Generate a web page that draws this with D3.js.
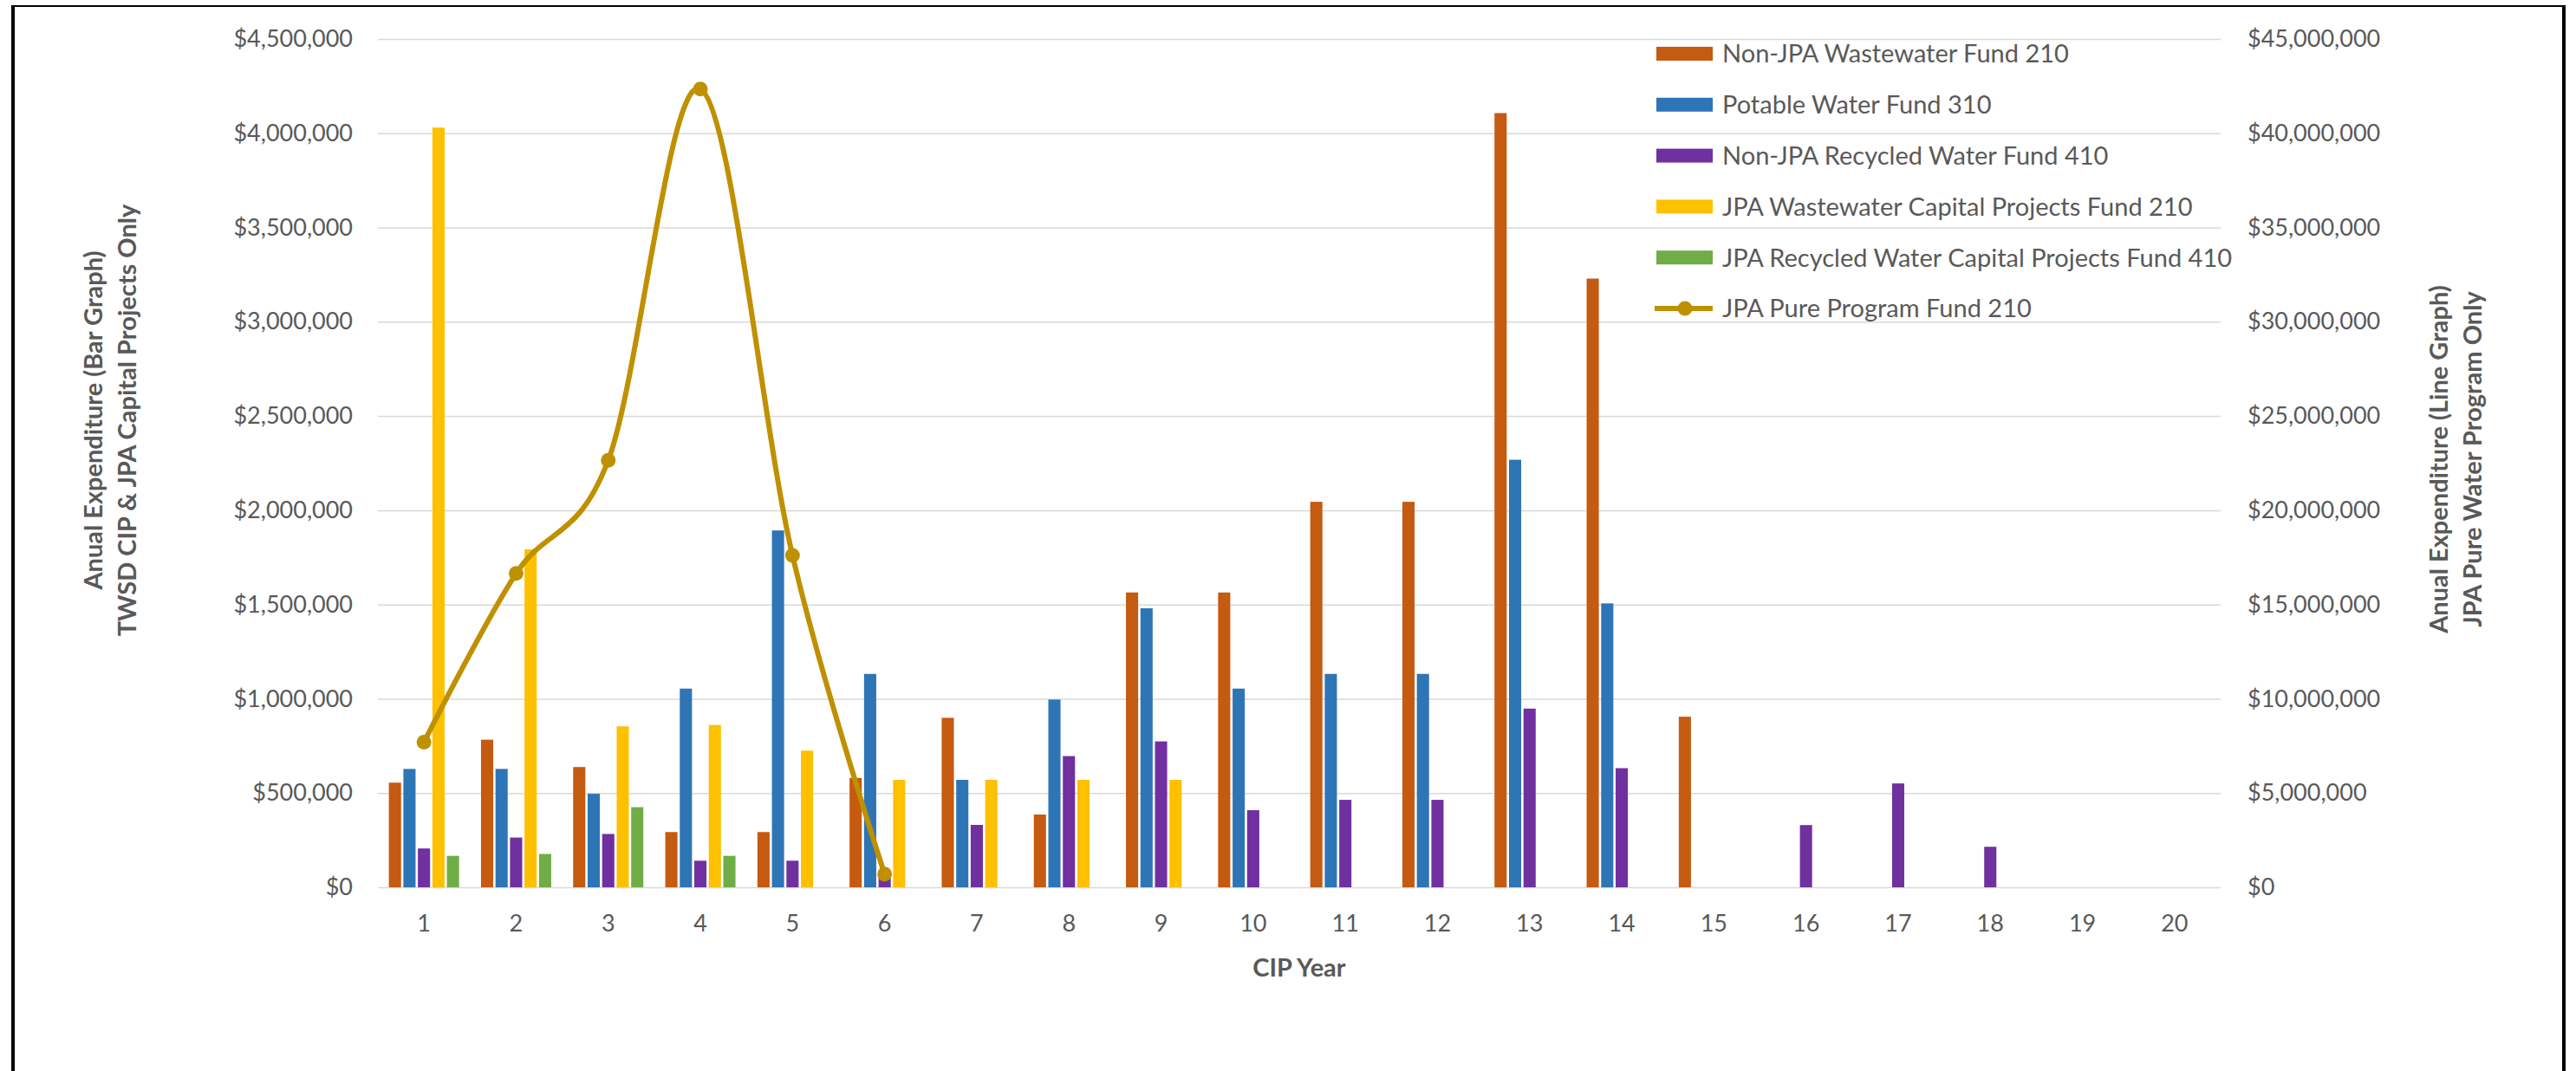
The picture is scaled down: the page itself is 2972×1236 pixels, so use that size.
<!DOCTYPE html>
<html>
<head>
<meta charset="utf-8">
<script src="https://cdn.jsdelivr.net/npm/d3@7"></script>
<style>
  html, body { margin: 0; padding: 0; background: #ffffff; }
  svg { display: block; }
  text { font-family: Lato, "Liberation Sans", sans-serif; }
</style>
</head>
<body>
<svg id="chart" width="2972" height="1236"></svg>
<script>
// CIP years on the x axis
const categories = ["1","2","3","4","5","6","7","8","9","10","11","12","13","14","15","16","17","18","19","20"];

// Bar series (left axis, dollars)
const nonJpaWastewater210 = [555000, 783000, 638000, 293000, 293000, 580000, 899000, 386000, 1564000, 1564000, 2045000, 2045000, 4107000, 3229000, 905000, 0, 0, 0, 0, 0];
const potableWater310     = [628000, 628000, 496000, 1054000, 1893000, 1132000, 570000, 996000, 1480000, 1054000, 1132000, 1132000, 2268000, 1506000, 0, 0, 0, 0, 0, 0];
const nonJpaRecycled410   = [206000, 264000, 283000, 141000, 141000, 60000, 331000, 696000, 774000, 409000, 464000, 464000, 948000, 632000, 0, 330000, 551000, 215000, 0, 0];
const jpaWastewaterCap210 = [4030000, 1793000, 854000, 861000, 725000, 570000, 570000, 570000, 570000, 0, 0, 0, 0, 0, 0, 0, 0, 0, 0, 0];
const jpaRecycledCap410   = [167000, 177000, 425000, 167000, 0, 0, 0, 0, 0, 0, 0, 0, 0, 0, 0, 0, 0, 0, 0, 0];

// Line series (right axis, dollars)
const jpaPureProgram210 = [7700000, 16650000, 22650000, 42350000, 17600000, 700000, null, null, null, null, null, null, null, null, null, null, null, null, null, null];

// Axis tick values
const leftTicks  = [0, 500000, 1000000, 1500000, 2000000, 2500000, 3000000, 3500000, 4000000, 4500000];
const rightTicks = [0, 5000000, 10000000, 15000000, 20000000, 25000000, 30000000, 35000000, 40000000, 45000000];

const barSeries = [
  { name: "Non-JPA Wastewater Fund 210",              values: nonJpaWastewater210, color: "#C55A11" },
  { name: "Potable Water Fund 310",                   values: potableWater310,     color: "#2E75B6" },
  { name: "Non-JPA Recycled Water Fund 410",          values: nonJpaRecycled410,   color: "#7030A0" },
  { name: "JPA Wastewater Capital Projects Fund 210", values: jpaWastewaterCap210, color: "#FFC000" },
  { name: "JPA Recycled Water Capital Projects Fund 410", values: jpaRecycledCap410, color: "#70AD47" }
];
const lineSeries = { name: "JPA Pure Program Fund 210", values: jpaPureProgram210, color: "#BF9000" };

const W = 2972, H = 1236;
const plot = { left: 436, right: 2562, top: 45, bottom: 1024 };
const textGray = "#595959";
const gridGray = "#D9D9D9";

const svg = d3.select("#chart");
svg.append("rect").attr("width", W).attr("height", H).attr("fill", "#ffffff");

// Frame
svg.append("line").attr("x1", 13).attr("x2", 2960).attr("y1", 7).attr("y2", 7)
  .attr("stroke", "#000").attr("stroke-width", 2);
svg.append("line").attr("x1", 15).attr("x2", 15).attr("y1", 6).attr("y2", H)
  .attr("stroke", "#000").attr("stroke-width", 4);
svg.append("line").attr("x1", 2958).attr("x2", 2958).attr("y1", 6).attr("y2", H)
  .attr("stroke", "#000").attr("stroke-width", 4);

// Scales
const x0 = d3.scaleBand().domain(categories).range([plot.left, plot.right]).paddingInner(0).paddingOuter(0);
const groupW = 81;
const x1 = d3.scaleBand().domain(barSeries.map(s => s.name))
  .range([(x0.bandwidth() - groupW) / 2, (x0.bandwidth() + groupW) / 2])
  .paddingInner(0.16).paddingOuter(0);
const yLeft  = d3.scaleLinear().domain([0, 4500000]).range([plot.bottom, plot.top]);
const yRight = d3.scaleLinear().domain([0, 45000000]).range([plot.bottom, plot.top]);

const money = d => "$" + d3.format(",")(d);

// Gridlines
svg.append("g")
  .attr("transform", `translate(${plot.left},0)`)
  .call(d3.axisLeft(yLeft).tickValues(leftTicks).tickSize(-(plot.right - plot.left)).tickFormat(""))
  .call(g => g.select(".domain").remove())
  .call(g => g.selectAll("line").attr("stroke", gridGray).attr("stroke-width", 1.5));

// Left axis labels
svg.append("g")
  .attr("transform", `translate(${plot.left},0)`)
  .call(d3.axisLeft(yLeft).tickValues(leftTicks).tickFormat(money).tickSize(0).tickPadding(29))
  .call(g => g.select(".domain").remove())
  .call(g => g.selectAll("text").attr("fill", textGray).style("font-size", "27px"));

// Right axis labels
svg.append("g")
  .attr("transform", `translate(${plot.right},0)`)
  .call(d3.axisRight(yRight).tickValues(rightTicks).tickFormat(money).tickSize(0).tickPadding(31))
  .call(g => g.select(".domain").remove())
  .call(g => g.selectAll("text").attr("fill", textGray).style("font-size", "27px"));

// Category axis
svg.append("g")
  .attr("transform", `translate(0,${plot.bottom})`)
  .call(d3.axisBottom(x0).tickSize(0).tickPadding(32))
  .call(g => g.select(".domain").remove())
  .call(g => g.selectAll("text").attr("fill", textGray).style("font-size", "27px"));

// Bars
barSeries.forEach(s => {
  svg.append("g").attr("fill", s.color)
    .selectAll("rect")
    .data(categories.map((c, i) => ({ c, v: s.values[i] })).filter(d => d.v > 0))
    .join("rect")
    .attr("x", d => x0(d.c) + x1(s.name))
    .attr("width", x1.bandwidth())
    .attr("y", d => yLeft(d.v))
    .attr("height", d => yLeft(0) - yLeft(d.v));
});

// Smoothed line on the right axis
const linePts = categories.map((c, i) => ({ c, v: lineSeries.values[i] })).filter(d => d.v != null);
const lineGen = d3.line()
  .x(d => x0(d.c) + x0.bandwidth() / 2)
  .y(d => yRight(d.v))
  .curve(d3.curveCatmullRom.alpha(0));
svg.append("path").datum(linePts)
  .attr("d", lineGen)
  .attr("fill", "none")
  .attr("stroke", lineSeries.color)
  .attr("stroke-width", 6)
  .attr("stroke-linecap", "round")
  .attr("stroke-linejoin", "round");
svg.append("g").attr("fill", lineSeries.color)
  .selectAll("circle").data(linePts).join("circle")
  .attr("cx", d => x0(d.c) + x0.bandwidth() / 2)
  .attr("cy", d => yRight(d.v))
  .attr("r", 8.5);

// Axis titles
const leftTitle = svg.append("text")
  .attr("transform", "translate(128,485) rotate(-90)")
  .attr("text-anchor", "middle").attr("fill", textGray)
  .style("font-size", "29px").style("font-weight", "bold");
leftTitle.append("tspan").attr("x", 0).attr("dy", "-0.35em").text("Anual Expenditure (Bar Graph)");
leftTitle.append("tspan").attr("x", 0).attr("dy", "1.35em").text("TWSD CIP & JPA Capital Projects Only");

const rightTitle = svg.append("text")
  .attr("transform", "translate(2834,530) rotate(-90)")
  .attr("text-anchor", "middle").attr("fill", textGray)
  .style("font-size", "29px").style("font-weight", "bold");
rightTitle.append("tspan").attr("x", 0).attr("dy", "-0.35em").text("Anual Expenditure (Line Graph)");
rightTitle.append("tspan").attr("x", 0).attr("dy", "1.35em").text("JPA Pure Water Program Only");

svg.append("text")
  .attr("x", (plot.left + plot.right) / 2).attr("y", 1117)
  .attr("dy", "0.35em").attr("text-anchor", "middle")
  .attr("fill", textGray).style("font-size", "29px").style("font-weight", "bold")
  .text("CIP Year");

// Legend
const legendItems = barSeries.map(s => ({ name: s.name, color: s.color, type: "bar" }))
  .concat([{ name: lineSeries.name, color: lineSeries.color, type: "line" }]);
const legend = svg.append("g").attr("transform", "translate(1911,62)");
const rows = legend.selectAll("g").data(legendItems).join("g")
  .attr("transform", (d, i) => `translate(0,${i * 58.8})`);
rows.filter(d => d.type === "bar").append("rect")
  .attr("x", 0).attr("y", -8).attr("width", 65).attr("height", 16)
  .attr("fill", d => d.color);
rows.filter(d => d.type === "line").append("line")
  .attr("x1", -2).attr("x2", 65).attr("y1", 0).attr("y2", 0)
  .attr("stroke", d => d.color).attr("stroke-width", 6);
rows.filter(d => d.type === "line").append("circle")
  .attr("cx", 33).attr("cy", 0).attr("r", 8.5).attr("fill", d => d.color);
rows.append("text")
  .attr("x", 76).attr("y", 0).attr("dy", "0.36em")
  .attr("fill", textGray).style("font-size", "29px")
  .text(d => d.name);
</script>
</body>
</html>
